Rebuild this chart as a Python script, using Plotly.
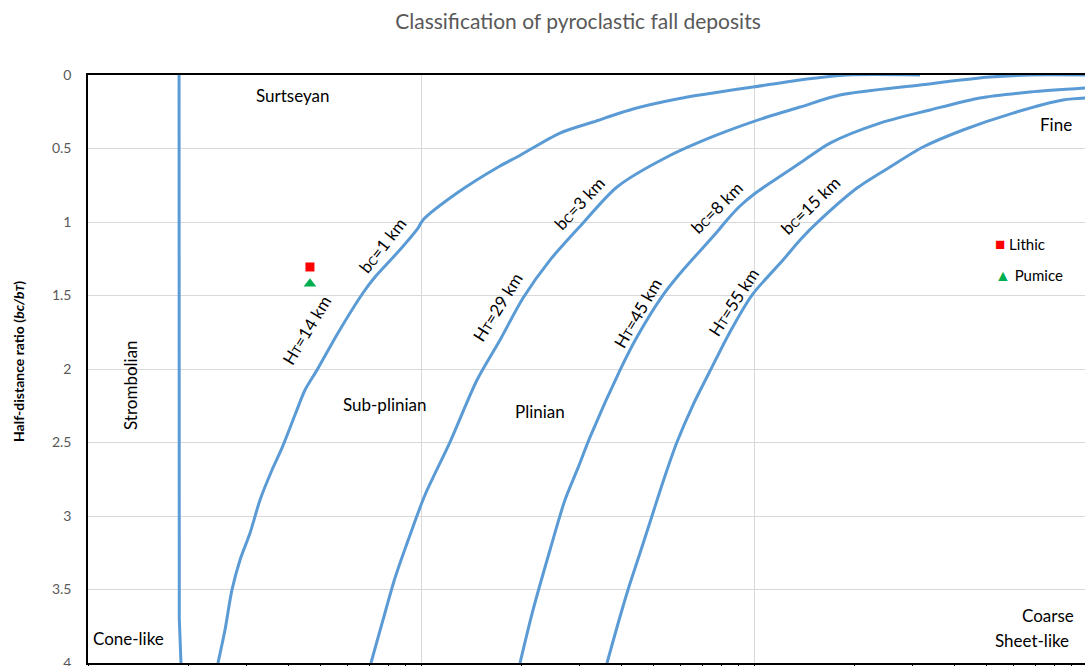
import plotly.graph_objects as go

# Half-distance curves: thickness half-distance bT (km, log scale) vs ratio bC/bT
c1_x = [0.2457, 0.2578, 0.2706, 0.2861, 0.3066, 0.3285, 0.3569, 0.3825, 0.4183, 0.4484,
        0.4873, 0.5632, 0.6694, 0.7275, 0.8527, 0.9795, 1.014, 1.283, 1.727, 1.943,
        2.614, 3.285, 4.331, 5.872, 7.532, 9.93, 13.75, 19.02, 31.5]
c1_y = [4.0, 3.776, 3.503, 3.299, 3.116, 2.891, 2.687, 2.537, 2.313, 2.143,
        2.007, 1.755, 1.483, 1.374, 1.204, 1.041, 0.986, 0.803, 0.619, 0.558,
        0.395, 0.320, 0.231, 0.163, 0.122, 0.082, 0.034, 0.0, 0.0]

c2_x = [0.7075, 0.7690, 0.8354, 0.9269, 1.028, 1.222, 1.473, 1.727, 2.025, 2.440,
        3.066, 3.879, 5.480, 7.743, 10.94, 13.75, 18.13, 31.5, 51.12, 67.43, 100.0]
c2_y = [4.0, 3.707, 3.422, 3.129, 2.857, 2.497, 2.075, 1.803, 1.517, 1.259,
        1.007, 0.762, 0.558, 0.408, 0.286, 0.218, 0.136, 0.068, 0.014, 0.0, 0.0]

c3_x = [1.983, 2.170, 2.440, 2.706, 2.961, 3.218, 3.960, 4.452, 5.330, 6.120,
        7.743, 8.297, 9.078, 9.93, 11.17, 13.75, 16.92, 23.9, 33.77, 47.71, 67.43, 100.0]
c3_y = [4.0, 3.639, 3.231, 2.891, 2.673, 2.463, 2.007, 1.782, 1.497, 1.327,
        1.068, 0.986, 0.891, 0.816, 0.735, 0.599, 0.463, 0.327, 0.238, 0.156, 0.116, 0.088]

c4_x = [3.619, 3.879, 4.183, 4.547, 4.939, 5.366, 5.872, 6.558, 7.429, 8.470,
        9.863, 12.22, 13.75, 15.79, 20.39, 25.61, 32.18, 42.42, 59.95, 84.7, 100.0]
c4_y = [4.0, 3.755, 3.503, 3.252, 3.0, 2.748, 2.497, 2.245, 2.0, 1.748,
        1.497, 1.259, 1.122, 0.986, 0.769, 0.626, 0.490, 0.374, 0.259, 0.170, 0.156]

# Strombolian / Surtseyan boundary
strom_x = [0.1877, 0.1877, 0.1880, 0.1902]
strom_y = [0.0, 2.0, 3.7, 4.0]

# Sample points
lithic_x = [0.464]
lithic_y = [1.306]
pumice_x = [0.464]
pumice_y = [1.42]

y_ticks = [0, 0.5, 1, 1.5, 2, 2.5, 3, 3.5, 4]
y_ticktext = ["0", "0.5", "1", "1.5", "2", "2.5", "3", "3.5", "4"]
x_major = [0.1, 1, 10, 100]
x_minor = [m * d for d in (0.1, 1, 10) for m in range(2, 10)]

BLUE = "#5B9BD5"
FONT = "Lato"
W, H = 1085, 666
L, R, T, B = 88, 0, 75, 3


def px(x):
    return (x - L) / (W - L - R)


def py(y):
    return 1 - (y - T) / (H - T - B)


fig = go.Figure()
fig.add_trace(go.Scatter(x=strom_x, y=strom_y, mode="lines",
                         line=dict(color=BLUE, width=3), hoverinfo="skip"))
for xs, ys in [(c1_x, c1_y), (c2_x, c2_y), (c3_x, c3_y), (c4_x, c4_y)]:
    fig.add_trace(go.Scatter(x=xs, y=ys, mode="lines",
                             line=dict(color=BLUE, width=3, shape="spline", smoothing=0.8),
                             hoverinfo="skip"))

fig.add_trace(go.Scatter(x=lithic_x, y=lithic_y, mode="markers", name="Lithic",
                         marker=dict(symbol="square", size=9, color="#FF0000")))
fig.add_trace(go.Scatter(x=pumice_x, y=pumice_y, mode="markers", name="Pumice",
                         marker=dict(symbol="triangle-up", size=11, color="#00B050")))

SMALL = "<span style='font-size:12px'>{}</span>"
LBL = 17
labels = [
    ("Surtseyan", 292, 95, 0),
    ("Strombolian", 130, 385, -90),
    ("Cone-like", 128, 638, 0),
    ("Sub-plinian", 385, 404, 0),
    ("Plinian", 540, 411, 0),
    ("Fine", 1056, 124, 0),
    ("Coarse", 1048, 615, 0),
    ("Sheet-like", 1032, 640, 0),
    ("b" + SMALL.format("C") + "=1 km", 382, 245, -52),
    ("H" + SMALL.format("T") + "=14 km", 306, 330, -59),
    ("b" + SMALL.format("C") + "=3 km", 579, 203, -47),
    ("H" + SMALL.format("T") + "=29 km", 497, 307, -58),
    ("b" + SMALL.format("C") + "=8 km", 717, 208, -45),
    ("H" + SMALL.format("T") + "=45 km", 637, 313, -60),
    ("b" + SMALL.format("C") + "=15 km", 810, 205, -44),
    ("H" + SMALL.format("T") + "=55 km", 733, 302, -57),
]
for text, x, y, ang in labels:
    fig.add_annotation(text=text, x=px(x), y=py(y), xref="paper", yref="paper",
                       showarrow=False, textangle=ang, xanchor="center", yanchor="middle",
                       font=dict(family=FONT, size=LBL, color="#000000"))

# Legend entries
fig.add_annotation(text="<span style='color:#FF0000;font-size:17px'>■</span> Lithic",
                   x=px(993), y=py(243), xref="paper", yref="paper", showarrow=False,
                   xanchor="left", yanchor="middle",
                   font=dict(family=FONT, size=15, color="#000000"))
fig.add_annotation(text="<span style='color:#00B050;font-size:16px'>▲</span> Pumice",
                   x=px(993), y=py(274), xref="paper", yref="paper", showarrow=False,
                   xanchor="left", yanchor="middle",
                   font=dict(family=FONT, size=15, color="#000000"))

# Y axis title
fig.add_annotation(text="<b>Half-distance ratio (<i>bc/b" + SMALL.format("T") + "</i>)</b>",
                   x=px(18), y=py(362), xref="paper", yref="paper", showarrow=False,
                   textangle=-90, xanchor="center", yanchor="middle",
                   font=dict(family=FONT, size=14, color="#000000"))

fig.update_layout(
    width=W, height=H,
    margin=dict(l=L, r=R, t=T, b=B),
    plot_bgcolor="white", paper_bgcolor="white",
    title=dict(text="Classification of pyroclastic fall deposits",
               x=578 / W, xanchor="center", y=1 - 22 / H, yanchor="middle",
               font=dict(family=FONT, size=21, color="#595959")),
    xaxis=dict(type="log", range=[-1, 1.994], tickvals=x_major, showticklabels=False,
               ticks="outside", ticklen=4, tickcolor="#000000", automargin=False,
               showgrid=True, gridcolor="#D9D9D9", gridwidth=1,
               showline=True, linecolor="#000000", linewidth=1.5, mirror=True,
               minor=dict(tickvals=x_minor, ticks="outside", ticklen=4,
                          tickcolor="#000000", showgrid=False),
               zeroline=False),
    yaxis=dict(range=[4, 0], tickvals=y_ticks, ticktext=y_ticktext, automargin=False,
               showgrid=True, gridcolor="#D9D9D9", gridwidth=1,
               showline=True, linecolor="#000000", linewidth=1.5,
               ticks="", ticklabelstandoff=12, ticklabeloverflow="allow",
               tickfont=dict(family=FONT, size=14, color="#595959"),
               zeroline=False),
    showlegend=False,
)

fig.write_html("out.html")
